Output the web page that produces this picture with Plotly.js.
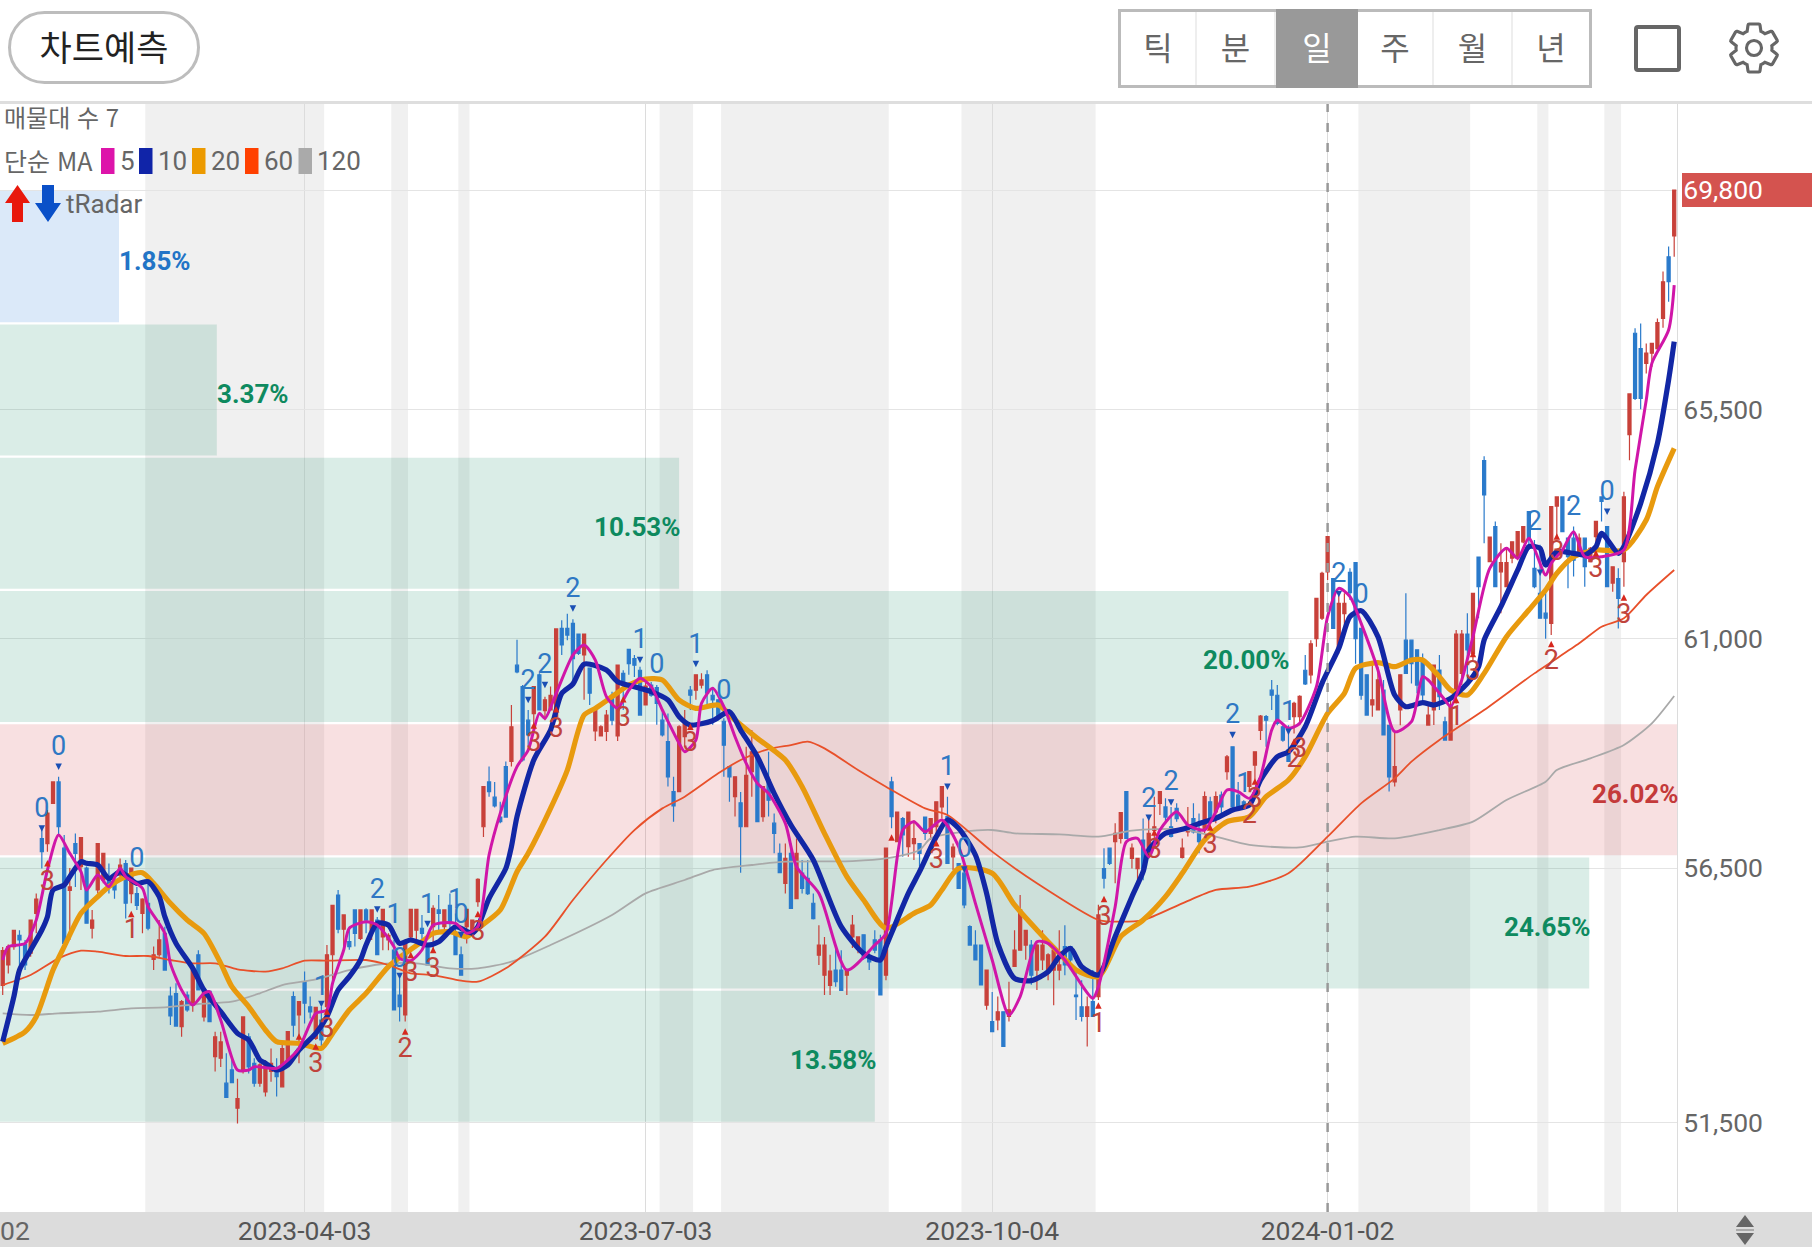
<!DOCTYPE html>
<html lang="ko">
<head>
<meta charset="utf-8">
<title>차트예측</title>
<script src="https://cdn.plot.ly/plotly-3.0.1.min.js"></script>
<style>
html,body{margin:0;padding:0;background:#fff;width:1812px;height:1247px;overflow:hidden;font-family:"Noto Sans CJK KR",Roboto,sans-serif}
#chart{position:absolute;left:0;top:0;width:1812px;height:1247px;z-index:1}
#footer{position:absolute;left:0;top:1212px;width:1812px;height:35px;background:#dcdcdc;z-index:0}
#topline{position:absolute;left:0;top:101px;width:1812px;height:3px;background:#dedede;z-index:2}
.ui{position:absolute;z-index:3;box-sizing:border-box}
#pill{left:8px;top:11px;width:192px;height:73px;border:3px solid #bdbdbd;border-radius:37px;text-align:center;line-height:64px;font-size:35px;color:#222}
#group{left:1118px;top:9px;width:474px;height:79px;border:3px solid #bbb;display:flex}
#group div{height:73px;line-height:68px;text-align:center;font-size:32px;color:#666;border-right:2px solid #eee;box-sizing:border-box}
#group div.on{background:#999;color:#fff;border-right:none;margin-top:-3px;height:79px;line-height:74px}
#box{left:1634px;top:25px;width:47px;height:47px;border:4px solid #666;border-radius:4px}
</style>
</head>
<body>
<div id="footer"></div>
<div id="chart"></div>
<div id="topline"></div>
<div id="pill" class="ui">차트예측</div>
<div id="group" class="ui">
  <div style="width:76px">틱</div><div style="width:79px">분</div><div class="on" style="width:82px">일</div><div style="width:76px">주</div><div style="width:79px">월</div><div style="width:76px;border-right:none">년</div>
</div>
<div id="box" class="ui"></div>
<svg class="ui" style="left:1724px;top:18px" width="60" height="60" viewBox="0 0 24 24" fill="none" stroke="#666" stroke-width="1.25">
  <path d="M19.14,12.94c0.04-0.3,0.06-0.61,0.06-0.94c0-0.32-0.02-0.64-0.07-0.94l2.03-1.58c0.18-0.14,0.23-0.41,0.12-0.61l-1.92-3.32c-0.12-0.22-0.37-0.29-0.59-0.22l-2.39,0.96c-0.5-0.38-1.03-0.7-1.62-0.94L14.4,2.81c-0.04-0.24-0.24-0.41-0.48-0.41h-3.84c-0.24,0-0.43,0.17-0.47,0.41L9.25,5.35C8.66,5.59,8.12,5.92,7.63,6.29L5.24,5.33c-0.22-0.08-0.47,0-0.59,0.22L2.74,8.87C2.62,9.08,2.66,9.34,2.86,9.48l2.03,1.58C4.84,11.36,4.8,11.69,4.8,12s0.02,0.64,0.07,0.94l-2.03,1.58c-0.18,0.14-0.23,0.41-0.12,0.61l1.92,3.32c0.12,0.22,0.37,0.29,0.59,0.22l2.39-0.96c0.5,0.38,1.03,0.7,1.62,0.94l0.36,2.54c0.05,0.24,0.24,0.41,0.48,0.41h3.84c0.24,0,0.44-0.17,0.47-0.41l0.36-2.54c0.59-0.24,1.13-0.56,1.62-0.94l2.39,0.96c0.22,0.08,0.47,0,0.59-0.22l1.92-3.32c0.12-0.22,0.07-0.47-0.12-0.61L19.14,12.94z"/>
  <circle cx="12" cy="12" r="3"/>
</svg>
<svg class="ui" style="left:5px;top:185px" width="56" height="37" viewBox="0 0 56 37">
  <polygon points="12.5,0 25,18 18,18 18,37 7,37 7,18 0,18" fill="#e8180c"/>
  <polygon points="43,37 30,18 37,18 37,0 49,0 49,18 56,18" fill="#0a50c8"/>
</svg>
<svg class="ui" style="left:1734px;top:1214px" width="22" height="32" viewBox="0 0 22 32">
  <polygon points="11,1 20,13 2,13" fill="#666"/>
  <rect x="2" y="15" width="18" height="2" fill="#aaa"/>
  <polygon points="2,19 20,19 11,31" fill="#666"/>
</svg>
<script>
const candleOpen = [
54200,54600,54960,55180,55000,54830,55610,57080,56980,57770,
58190,56890,56060,56980,56530,56500,55320,56070,56270,56330,
56200,56360,56590,56000,56000,55610,55810,54710,54800,55220,
53990,54040,53390,54010,53810,54800,53580,54080,52800,52770,
52280,52540,51790,52540,53190,52670,52280,52110,52510,52570,
52210,52670,53980,53620,54270,53780,53160,53520,53780,54800,
55970,55300,55060,55680,55120,55680,55280,55480,55150,55090,
54890,54010,53620,55150,55280,55320,55000,55350,55680,55350,
55770,55220,54800,55350,55220,55840,57310,58190,57890,57500,
58490,58590,60480,60060,59400,59530,60290,59590,59600,59470,
61200,61200,61300,61090,60680,60420,59190,59090,59180,59890,
59090,60320,60790,60610,60380,59700,60090,60040,59400,58980,
58000,58000,59080,59990,59990,60090,60290,59890,59800,59380,
58490,57900,57780,57310,58390,58680,57510,58230,57380,56790,
56200,56790,55900,56400,56300,55810,54790,54400,54200,54500,
54500,54400,55150,54920,55190,54730,55090,55090,54400,58190,
57020,57470,56920,56980,56980,57500,57180,57310,57700,57510,
56720,56590,56400,55350,54990,54990,53810,53490,53520,53680,
53590,54570,54890,54990,54990,54500,54700,54500,54500,54500,
54960,54960,54010,53780,53590,53880,53980,56490,56890,57020,
57080,58000,56690,56490,57050,56790,57240,57770,57700,57310,
57670,56710,57210,57470,57210,57280,57800,57600,57930,58390,
58880,57930,57800,58100,58520,59200,59470,59990,59890,59270,
58820,59470,59470,60380,60290,61000,61400,62310,62180,60810,
61490,62300,62490,61200,60290,59700,59600,59990,59300,58190,
59600,60970,60970,60780,60580,59305,59600,60385,59370,59010,
59930,60320,61090,60710,62600,64490,62510,63200,62310,62020,
62580,62610,62900,63490,62380,61890,61500,61300,63600,63780,
62970,62970,62670,62970,62510,63000,63780,63200,62090,62180,
62510,65000,66990,66690,66400,66600,66690,67280,68490,68900];
const candleHigh = [
54950,55000,55280,55280,55090,55480,56000,57250,57640,58190,
58290,57150,56500,57180,57110,56530,55680,56980,56790,56590,
56300,56690,56660,56500,56130,55910,56330,54960,55480,55350,
54170,54240,53910,54080,54500,54890,54080,54080,53290,53290,
52870,52770,52370,53580,53260,52770,52670,52730,52960,52770,
53030,53290,54080,53880,54470,53980,53780,53780,54990,55770,
56070,55580,55350,55680,55690,55710,55680,55540,55690,55220,
55090,54340,55090,55690,55690,55580,55020,55770,55970,55680,
56000,55610,54960,55690,55480,56300,58100,58490,58190,57800,
58590,59700,60980,60090,59600,60070,60320,59860,60060,61190,
61360,61490,61380,61100,61090,60420,59600,59300,59600,59960,
60480,60380,60790,60680,60450,60150,60150,60090,59600,59530,
58290,59300,59600,60070,60290,60320,60380,60020,59800,59440,
58490,58290,57990,58880,59210,58780,58100,58780,57570,56980,
56980,56980,57080,56660,56660,56000,55380,55150,54800,54990,
54890,54510,55580,55150,55190,54830,55280,55190,56890,58290,
57600,57500,57600,57440,56980,57500,57470,57800,58100,57900,
56980,56590,56530,55380,55280,54990,54500,54070,53980,53680,
54270,55280,55970,55280,55090,55020,55280,54830,54990,55280,
55380,54960,54470,54300,53980,54500,55780,56890,56890,57380,
57600,58000,56980,56690,57470,57470,57900,58000,57870,57700,
57770,57080,57700,57770,57570,58000,57900,58000,58000,58720,
58880,58190,57830,58390,58780,59500,59500,60190,60090,59300,
59300,59760,59890,60680,60970,61790,62310,63000,62180,61890,
61890,62380,62490,61200,60290,60480,60450,60190,59300,59200,
60290,61890,60970,60780,60710,59730,60480,60680,59470,59800,
61170,61170,61500,61890,62600,64580,63000,63300,62870,62800,
62900,63100,63200,63490,62935,62840,61990,63590,63780,63780,
62970,63200,63060,62970,62800,63300,63780,63200,62410,62380,
63880,65800,67090,67180,66790,66790,67280,68200,68690,69800];
const candleLow = [
54010,54430,54900,54400,54500,54760,55220,56490,56820,57770,
57150,55020,55090,56130,56070,55420,55120,56000,56200,56000,
55900,56270,55510,55810,55680,55220,55280,54500,54760,54500,
53420,53400,53190,53680,53680,54110,53490,53490,52510,52600,
52000,52280,51490,52470,52470,52210,52210,52020,52310,52020,
52210,52600,53190,52670,53450,53550,53130,52960,53720,54300,
55220,54960,54900,54960,55090,55220,55090,54800,54890,54890,
53720,53490,53490,55090,55020,55090,54600,54890,55220,55220,
55220,54800,54400,55020,55150,55740,57110,57900,57690,57380,
57500,58490,60320,58590,58880,59340,59600,59400,59600,59400,
60680,60970,60190,60680,59800,59700,58990,59080,58990,59300,
58990,59600,60290,60250,59500,59700,59860,59310,59080,58100,
57410,58000,58880,59600,59800,60020,59700,59310,59400,58290,
57800,57510,56410,57310,57900,57410,57410,57510,56790,56410,
56000,55710,55900,56000,55970,55490,54600,54010,54010,54170,
54100,54010,54930,54830,54700,54500,54830,54010,54300,57280,
57020,56720,56720,56660,56530,57050,57050,57120,57470,56590,
56460,56100,55710,54990,54700,54210,53720,53290,53320,53000,
53490,54570,54890,54700,54210,54110,54500,54300,53810,54300,
54400,54500,53520,53490,53000,53590,53910,56100,56560,56200,
56980,57080,56490,56100,56260,56690,57050,57540,57380,57100,
57410,56690,57120,57180,56790,57180,57410,57380,57510,58230,
57670,57670,57700,58000,58230,59010,58880,59600,59300,58980,
58590,59140,59300,60090,60120,60840,61365,62150,61200,60710,
61200,61760,60510,59800,59500,59470,59600,59110,58000,58100,
59300,60320,60120,59930,59730,59305,59305,59600,59010,59010,
59730,60090,60190,60580,61400,62870,62510,62020,61500,62020,
62480,62540,62870,62740,61990,61400,61000,61070,63000,63100,
61990,62220,62610,62020,62510,62770,63300,62020,61920,61200,
62020,64500,65680,65500,66200,66330,66660,67100,67610,68490];
const candleClose = [
54880,54960,55280,55090,54600,55480,55890,56820,57580,58190,
57310,55020,56130,56790,57100,55420,55480,56980,56790,56200,
56070,56560,55810,56500,55770,55890,55320,54800,55090,54500,
53600,53400,53880,53720,54500,54110,54080,53490,53190,53090,
52000,52290,51980,53580,52600,52280,52640,52670,52670,52410,
52960,53290,53420,53880,53850,53680,53770,53130,54800,55770,
55300,55580,54960,55220,55680,55480,55680,54800,55690,55180,
53720,53780,55060,55690,55690,55220,54600,55710,55610,55680,
55410,54800,54400,55690,55480,56280,58100,58000,57720,57410,
57500,59270,60350,58620,59110,60060,59600,59800,59890,61190,
60875,61070,60610,60710,61090,59930,59600,59270,59500,59400,
60480,60090,60510,60480,59500,60070,59890,59730,59110,58290,
57720,59270,59340,59890,60290,60190,59930,59800,59470,58910,
58290,58290,57310,58320,58780,57410,58100,57830,57180,56410,
56690,55710,56790,56100,56000,55510,54990,54990,54480,54270,
54100,54500,55380,55150,54730,54660,54890,54010,56890,57510,
57600,57150,57600,57080,56790,57180,57470,57800,58100,56590,
56910,56100,55780,54990,54700,54210,54500,53290,53680,53000,
53720,54890,55680,55280,54400,54990,54990,54800,54890,54600,
54600,54700,53980,53590,53780,53590,55580,56300,56590,57180,
57590,57080,56890,56690,56490,57180,57310,58000,57500,57120,
57470,56890,57310,57210,57020,57900,57440,57900,57700,58680,
57700,57700,57700,58390,58780,59480,59400,59890,59340,59010,
58590,59730,59870,60110,60900,61790,62280,63000,61200,61690,
61690,61900,61000,59890,59500,59800,60190,59110,58290,58490,
60290,60320,60510,60090,59895,59500,60480,59860,59010,59670,
61090,61090,60780,61890,62020,63820,62990,62020,62490,62490,
62900,63100,63200,62935,62020,61400,61400,63590,63780,63100,
62610,62540,62970,62410,62770,63300,63690,62020,62410,61790,
63780,65800,65710,65710,66600,66790,67200,68000,68000,69800];

const ma5Idx = [0,1,4,6,8,10,12,14,15,17,19,21,22,25,26,29,30,32,34,36,37,39,42,44,45,49,51,53,56,58,59,61,62,65,67,70,71,73,75,77,81,83,85,87,89,92,94,96,97,99,102,104,106,108,110,112,114,116,118,121,122,124,125,127,129,131,133,135,137,140,142,146,151,156,158,161,163,165,168,171,174,177,180,182,185,187,190,195,196,199,201,203,205,207,210,212,215,217,219,221,223,225,227,228,230,232,235,237,239,241,243,246,249,252,254,255,258,259,261,263,266,269,271,273,276,277,279,281,283,286,290,292,294,295,298,299];
const ma5Val = [54697,54958,55023,55481,56462,57148,56789,56429,56070,56364,56135,56495,56331,56102,55743,55220,54631,54108,53814,54043,54076,53520,52539,52539,52604,52572,52735,52964,53651,53716,54239,54893,55318,55449,55383,54958,54729,54684,54893,55383,55416,55220,55350,56756,57573,58489,58815,59535,59436,59927,60679,60875,60581,59861,59633,59992,60221,60058,59600,58946,58783,59011,59731,60025,59665,59077,58554,58162,57965,57377,56527,56004,54500,54991,55219,57247,57410,57214,57443,56920,55808,54697,53618,53978,55056,55024,54697,53945,54174,55743,57018,57083,56724,57247,57606,57345,57247,57606,58031,57999,57868,58293,59208,59404,59241,59339,60058,61431,61987,61823,61300,60385,59175,59371,60254,60189,59796,59666,60189,61039,62379,62771,62575,62967,62248,62477,62738,63098,62608,62608,62738,64308,65681,66400,67054,67936];

const ma10Idx = [0,2,3,5,7,8,9,11,12,14,15,17,19,21,22,24,26,28,29,31,34,36,39,42,44,46,47,49,51,53,56,58,60,62,64,65,67,69,71,73,76,78,81,84,85,87,90,91,92,95,98,100,102,104,108,110,113,116,119,121,123,127,130,132,135,138,141,145,150,154,157,158,162,164,167,169,171,174,176,178,181,184,187,189,191,193,196,199,202,204,205,208,211,215,217,220,223,225,228,230,233,236,239,241,243,246,249,251,254,256,259,262,264,265,268,271,273,275,276,278,281,283,285,286,289,290,293,296,298,299];
const ma10Val = [53095,53977,54500,54893,55285,55547,56070,56168,56331,56625,56593,56560,56298,56429,56364,56200,56233,55939,55547,55023,54533,54108,53683,53258,53128,52735,52670,52539,52637,52931,53258,53585,54108,54370,54697,54991,55416,55383,55023,55089,54991,55056,55350,55220,55350,55906,56494,56919,57508,58619,59208,59927,60110,60502,60384,60156,60058,59960,59796,59469,59306,59391,59567,59208,58684,57965,57344,56658,55350,54827,54696,54958,56005,56429,57116,57443,57280,56756,56005,55024,54337,54292,54468,54762,54926,54566,54403,55155,55939,56429,56854,57181,57260,57410,57476,57639,57737,58227,58685,58783,59273,60123,60810,61431,61549,61039,59894,59666,59744,59698,59829,60123,60450,60973,61627,62346,62804,62771,62444,62706,62673,62640,62804,63065,62673,62804,63654,64831,66073,66825];

const ma20Idx = [0,4,6,9,11,14,17,19,22,25,27,30,33,36,39,41,44,47,49,53,57,59,62,65,69,72,75,77,80,83,85,89,92,94,98,101,104,106,109,112,115,118,121,124,128,131,135,140,143,147,151,154,158,163,166,168,171,177,181,185,189,192,196,200,204,208,211,215,219,223,226,230,233,237,240,242,246,249,252,254,257,259,262,265,269,273,276,278,281,285,290,294,296,299];
const ma20Val = [53062,53291,53585,54500,54958,55612,55939,56135,56331,56410,56200,55808,55481,55220,54631,54174,53781,53324,53095,53062,52964,53258,53716,54043,54566,54827,55056,55220,55252,55154,55318,55677,56429,56789,57671,58423,59502,59633,59861,60090,60208,60188,59796,59633,59698,59404,59044,58619,58096,57181,56331,55873,55317,55612,55775,56070,56495,56397,55776,55285,54828,54501,54370,55155,55481,55939,56397,57051,57410,57508,57900,58227,58685,59535,59927,60418,60529,60450,60581,60581,60254,59993,59894,60319,61039,61562,61954,62281,62608,62738,62738,63327,63981,64733];

const ma60Idx = [0,5,10,14,17,22,26,30,34,38,42,47,50,54,58,65,69,73,77,82,85,90,97,102,108,113,118,122,128,132,137,141,144,147,153,158,165,169,177,185,196,199,204,211,217,223,230,237,243,249,252,257,265,274,282,286,290,294,299];
const ma60Val = [54206,54402,54729,54880,54860,54775,54775,54697,54631,54631,54514,54468,54533,54684,54684,54697,54599,54435,54402,54291,54272,54533,55154,55873,56658,57246,57671,57900,58358,58619,58835,58913,58979,58848,58423,58096,57672,57541,56822,56201,55481,55449,55481,55808,56070,56135,56397,57116,57770,58260,58587,59012,59600,60319,60908,61235,61398,61856,62346];

const ma120Idx = [0,5,10,17,23,29,35,41,46,50,56,62,68,74,80,85,91,98,109,115,122,127,134,140,152,158,164,166,172,177,181,189,196,202,211,217,223,232,237,242,249,257,263,269,276,278,284,290,295,299];
const ma120Val = [53651,53618,53651,53683,53749,53768,53834,53879,54043,54206,54317,54500,54618,54631,54533,54533,54664,54991,55579,56004,56266,56462,56560,56625,56638,56690,56854,57083,57214,57247,57181,57162,57116,57234,57260,57116,56953,56907,57018,57116,57083,57246,57410,57835,58194,58423,58652,58914,59339,59875];

const bandMid   = [52807,55421,58036,60650,63264,65879,68493];
const bandWidth = 2570;
const bandEnd   = [156,283.8,299.5,230,121,38.3,20.8];
const bandPct   = ['13.58%','24.65%','26.02%','20.00%','10.53%','3.37%','1.85%'];
const bandFill  = ['rgba(0,130,90,0.145)','rgba(0,130,90,0.145)','rgba(205,50,55,0.15)','rgba(0,130,90,0.145)','rgba(0,130,90,0.145)','rgba(0,130,90,0.145)','rgba(30,120,220,0.16)'];
const bandInk   = ['#0e8a5f','#0e8a5f','#c43a3a','#0e8a5f','#0e8a5f','#0e8a5f','#2274c6'];
const bandSide  = ['right','right','right','right','right','left','left'];

const shadeStart = [25.5,69.5,81.5,117.5,128.5,171.5,242.5,274.5,286.5];
const shadeEnd   = [57.5,72.5,83.5,123.5,158.5,195.5,262.5,276.5,289.5];

const dateTickIdx  = [54,115,177,237];
const dateTickText = ['2023-04-03','2023-07-03','2023-10-04','2024-01-02'];
const priceTicks   = [69800,65500,61000,56500,51500];
const priceText    = ['<span style="color:#fff">69,800</span>','65,500','61,000','56,500','51,500'];

const blueLabelIdx = [10,7,24,67,70,71,57,76,81,82,102,94,97,114,117,124,129,169,172,205,209,222,220,230,239,243,274,281,287];
const blueLabelVal = [58848,57639,56658,56037,55547,54697,54140,55743,55841,55547,61940,60143,60463,60940,60463,60855,59946,58456,56855,57835,58162,58130,59470,59535,62248,61836,63262,63556,63850];
const blueLabelTxt = ['0','0','0','2','1','0','1','1','1','0','2','2','2','1','0','1','0','1','0','2','2','1','2','1','2','0','2','2','0'];
const blueArrowIdx = [10,7,67,71,57,76,82,102,94,97,114,124,169,172,205,209,220,230,239,275,287];
const blueArrowVal = [58423,57214,55625,54317,53768,55337,55122,61529,59731,60025,60515,60437,58031,56410,57423,57724,59045,59110,61810,62229,63425];
const redLabelIdx  = [8,23,56,58,72,73,77,85,95,99,111,123,167,197,196,206,216,223,224,232,231,260,263,277,278,285,290];
const redLabelVal  = [56200,55252,52637,53324,52932,54422,54500,55220,58926,59208,59417,58933,56625,55514,53422,56822,56920,57508,57835,58816,58620,59437,60319,60529,62673,62333,61431];
const redLabelTxt  = ['3','1','3','3','2','3','3','3','3','3','3','3','3','3','1','3','3','2','3','3','2','1','3','2','3','3','3'];
const redArrowIdx  = [8,23,53,56,58,72,73,77,85,95,99,111,123,159,167,197,196,206,216,224,231,260,263,277,278,285,290];
const redArrowVal  = [56658,55664,53258,53062,53749,53357,54860,54958,55664,59358,59678,59874,59338,57162,57051,55959,53866,57260,57358,58260,59045,59862,60764,60960,63065,62738,61869];

const maLegendText  = ['5','10','20','60','120'];
const maLegendColor = ['#dd14aa','#1024a8','#ec9a00','#ff4000','#aaaaaa'];

const W = 1677, T = 102, B = 1212;
const xMin = -0.483, xMax = 299.5;
const yMin = 49754, yMax = 71526;
const px = x => x / W;
const py = y => (B - y) / (B - T);
const candleIdx = candleOpen.map((_, i) => i);

const line = (x, y, color, width, name) => ({type:'scatter', mode:'lines', x, y, name, hoverinfo:'skip', line:{color, width, shape:'spline', smoothing:0.7}});
const words = (x, y, text, color) => ({type:'scatter', mode:'text', x, y, text, textposition:'middle center', hoverinfo:'skip', textfont:{family:'Roboto', size:27, color}});
const arrows = (x, y, symbol, color) => ({type:'scatter', mode:'markers', x, y, hoverinfo:'skip', marker:{symbol, size:6.5, color, line:{width:0}}});

const traces = [
  {type:'bar', orientation:'h', y:bandMid, x:bandEnd.map(e => e - xMin), base:bandEnd.map(() => xMin), width:bandMid.map(() => bandWidth), marker:{color:bandFill, line:{width:0}}, hoverinfo:'skip'},
  {type:'candlestick', x:candleIdx, open:candleOpen, high:candleHigh, low:candleLow, close:candleClose, hoverinfo:'skip', whiskerwidth:0,
   increasing:{line:{color:'#c8413a', width:1.2}, fillcolor:'#c8413a'},
   decreasing:{line:{color:'#2a7acb', width:1.2}, fillcolor:'#2a7acb'}},
  line(ma120Idx, ma120Val, '#a9a9a9', 1.8, 'MA120'),
  line(ma60Idx, ma60Val, '#e8502a', 1.8, 'MA60'),
  line(ma20Idx, ma20Val, '#e89a0e', 5.2, 'MA20'),
  line(ma10Idx, ma10Val, '#1227a5', 5.2, 'MA10'),
  line(ma5Idx, ma5Val, '#d016a8', 3, 'MA5'),
  words(blueLabelIdx, blueLabelVal, blueLabelTxt, '#2f78c4'),
  words(redLabelIdx, redLabelVal, redLabelTxt, '#c0433c'),
  arrows(blueArrowIdx, blueArrowVal, 'arrow-down', '#1a4fb4'),
  arrows(redArrowIdx, redArrowVal, 'arrow-up', '#d6281e')
];

const shapes = [];
shadeStart.forEach((s, k) => shapes.push({type:'rect', layer:'below', xref:'x', yref:'paper', x0:s, x1:shadeEnd[k], y0:0, y1:1, fillcolor:'rgba(0,0,0,0.06)', line:{width:0}}));
shapes.push({type:'line', layer:'above', xref:'x', yref:'paper', x0:237, x1:237, y0:0, y1:1, line:{color:'#999', width:2.5, dash:'9px,11px'}});
shapes.push({type:'rect', layer:'below', xref:'paper', yref:'paper', x0:px(1682), x1:px(1812), y0:py(207), y1:py(173), fillcolor:'#d4534f', line:{width:0}});

const annotations = [];
bandMid.forEach((m, k) => annotations.push({xref:'x', yref:'y', x:bandEnd[k], y:m, text:'<b>' + bandPct[k] + '</b>', showarrow:false, xanchor:bandSide[k] === 'left' ? 'left' : 'right', yanchor:'middle', borderpad:0, xshift:bandSide[k] === 'left' ? -1 : 2, yshift:-4, font:{family:'Roboto', size:26, color:bandInk[k]}}));
const note = (x, y, text, family, size) => ({xref:'paper', yref:'paper', x:px(x), y:py(y), text, showarrow:false, xanchor:'left', yanchor:'middle', borderpad:0, font:{family:family || 'Roboto', size:size || 26, color:'#666'}});
annotations.push(note(3, 117, '매물대 수 7', '"Noto Sans CJK KR"', 24));
annotations.push(note(3, 160, '단순 MA', '"Noto Sans CJK KR"', 25));
annotations.push(note(65, 204, 'tRadar'));
annotations.push(note(-1, 1230, '02', 'Roboto', 26.5));
const swatchX = [101,139,192,245,298.5];
maLegendText.forEach((t, k) => {
  shapes.push({type:'rect', layer:'above', xref:'paper', yref:'paper', x0:px(swatchX[k]), x1:px(swatchX[k] + 13.5), y0:py(174), y1:py(148), fillcolor:maLegendColor[k], line:{width:0}});
  annotations.push(note(swatchX[k] + 17.5, 161, t));
});

const layout = {
  width:1812, height:1247, autosize:false, showlegend:false,
  margin:{l:0, r:135, t:102, b:35, pad:0},
  paper_bgcolor:'rgba(0,0,0,0)', plot_bgcolor:'rgba(0,0,0,0)',
  boxgap:0.45, boxgroupgap:0, dragmode:false, hovermode:false,
  xaxis:{type:'linear', range:[xMin, xMax], tickmode:'array', tickvals:dateTickIdx, ticktext:dateTickText, showgrid:true, gridcolor:'#dcdcdc', gridwidth:1, zeroline:false, showline:false, ticks:'', tickfont:{family:'Roboto', size:26.5, color:'#555'}, rangeslider:{visible:false}, fixedrange:true, automargin:false},
  yaxis:{type:'linear', side:'right', range:[yMin, yMax], tickmode:'array', tickvals:priceTicks, ticktext:priceText, showgrid:true, gridcolor:'#e4e4e4', gridwidth:1, zeroline:false, showline:true, linecolor:'#dcdcdc', linewidth:1, ticks:'', tickfont:{family:'Roboto', size:26.5, color:'#666'}, fixedrange:true, automargin:false},
  shapes, annotations
};
Plotly.newPlot('chart', traces, layout, {displayModeBar:false, staticPlot:true, responsive:false});
</script>
</body>
</html>
